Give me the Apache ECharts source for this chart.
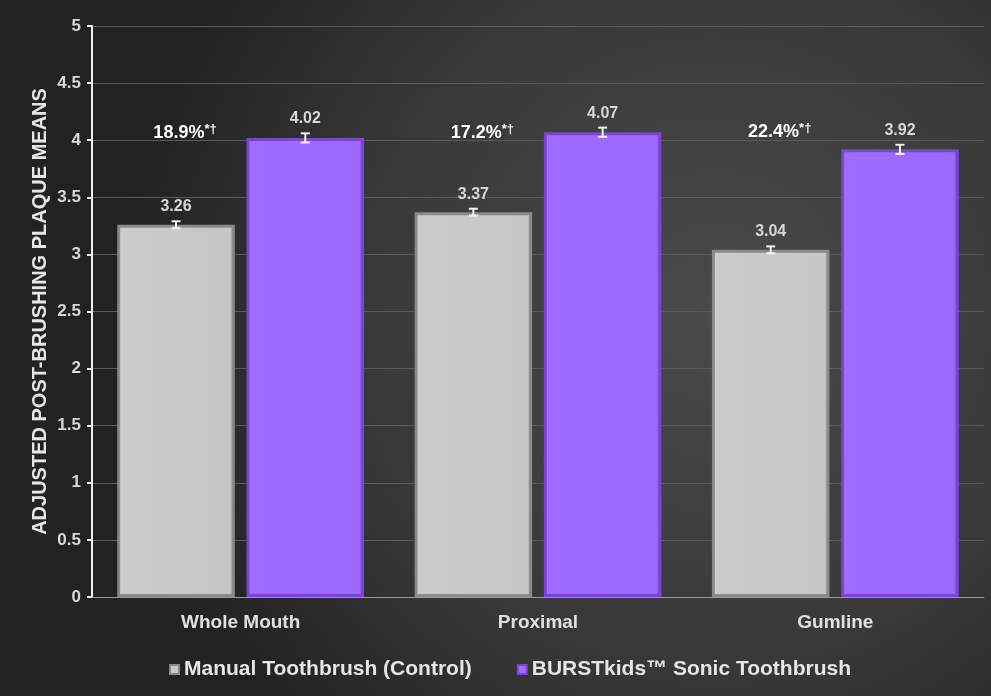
<!DOCTYPE html>
<html><head><meta charset="utf-8">
<script src="https://cdn.jsdelivr.net/npm/echarts@6/dist/echarts.min.js"></script>
<style>html,body{margin:0;padding:0;background:#2a2a2a}#c{width:991px;height:696px}</style>
</head><body><div id="c"></div>
<script>
const categories = ['Whole Mouth', 'Proximal', 'Gumline'];
const seriesNames = ['Manual Toothbrush (Control)', 'BURSTkids\u2122 Sonic Toothbrush'];
const manualValues = [3.26, 3.37, 3.04];
const burstValues = [4.02, 4.07, 3.92];
const manualErr = [0.03, 0.03, 0.03];
const burstErr = [0.04, 0.04, 0.04];
const pctLabels = ['18.9%', '17.2%', '22.4%'];
const pctMarks = ['*\u2020', '*\u2020', '*\u2020'];
const pctY = [4.06, 4.06, 4.07];
const yTicks = [0, 0.5, 1, 1.5, 2, 2.5, 3, 3.5, 4, 4.5, 5];

const CAT_GAP = 0.17, BAR_GAP = 0.10;
function barOffsets(band) {
  const w = band * (1 - CAT_GAP) / (2 + BAR_GAP);
  return { w: w, off: [-(w + w * BAR_GAP) / 2, (w + w * BAR_GAP) / 2] };
}

const errData = [];
manualValues.forEach((v, i) => errData.push([i, v, manualErr[i], 0]));
burstValues.forEach((v, i) => errData.push([i, v, burstErr[i], 1]));

const pctData = pctLabels.map((p, i) => [i, pctY[i], p, pctMarks[i]]);

const chart = echarts.init(document.getElementById('c'), null, {renderer: 'canvas'});
const textFont = '"Liberation Sans", Arial, sans-serif';
chart.setOption({
  backgroundColor: {
    type: 'radial', x: 0.72, y: 0.45, r: 0.85,
    colorStops: [{offset: 0, color: '#4a4a4a'}, {offset: 0.6, color: '#383838'}, {offset: 1, color: '#222222'}]
  },
  textStyle: {fontFamily: textFont},
  animation: false,
  grid: {left: 92, right: 7, top: 26, bottom: 99},
  legend: {
    top: 654, left: 164, itemGap: 45, itemWidth: 9, itemHeight: 9,
    icon: 'rect',
    textStyle: {color: '#e6e6e6', fontSize: 21, fontWeight: 'bold', fontFamily: textFont},
    data: seriesNames
  },
  xAxis: {
    type: 'category', data: categories,
    axisLine: {lineStyle: {color: '#9a9a9a', width: 1}},
    axisTick: {show: false},
    axisLabel: {color: '#e0e0e0', fontSize: 19, fontWeight: 'bold', margin: 16}
  },
  yAxis: {
    type: 'value', min: 0, max: 5, interval: 0.5,
    name: 'ADJUSTED POST-BRUSHING PLAQUE MEANS', nameLocation: 'middle', nameGap: 42,
    nameMoveOverlap: false,
    nameTextStyle: {color: '#e6e6e6', fontSize: 20, fontWeight: 'bold'},
    axisLine: {show: true, lineStyle: {color: '#f0f0f0', width: 2}},
    axisTick: {show: true, length: 5, lineStyle: {color: '#f0f0f0', width: 2}},
    axisLabel: {color: '#d8d8d8', fontSize: 17, fontWeight: 'bold', margin: 11,
      formatter: v => yTicks.indexOf(v) >= 0 ? String(v) : ''},
    splitLine: {lineStyle: {color: '#5a5a5a', width: 1}}
  },
  series: [
    {
      name: seriesNames[0], type: 'bar', data: manualValues,
      barCategoryGap: (CAT_GAP * 100) + '%', barGap: (BAR_GAP * 100) + '%',
      itemStyle: {
        color: {type: 'linear', x: 0, y: 0, x2: 1, y2: 0, colorStops: [
          {offset: 0, color: '#efefef'}, {offset: 0.04, color: '#cbcbcb'}, {offset: 0.96, color: '#c6c6c6'}, {offset: 1, color: '#8f8f8f'}]},
        borderColor: '#8a8a8a', borderWidth: 3
      },
      label: {show: true, position: 'top', distance: 10, color: '#d8d8d8', fontSize: 16, fontWeight: 'bold',
        formatter: p => p.value.toFixed(2)},
      z: 2
    },
    {
      name: seriesNames[1], type: 'bar', data: burstValues,
      itemStyle: {
        color: {type: 'linear', x: 0, y: 0, x2: 1, y2: 0, colorStops: [
          {offset: 0, color: '#b68cff'}, {offset: 0.04, color: '#a06cff'}, {offset: 0.96, color: '#9d69fb'}, {offset: 1, color: '#6d38c0'}]},
        borderColor: '#7b44d6', borderWidth: 3
      },
      label: {show: true, position: 'top', distance: 11, color: '#d8d8d8', fontSize: 16, fontWeight: 'bold',
        formatter: p => p.value.toFixed(2)},
      z: 2
    },
    {
      type: 'custom', name: 'err', data: errData, z: 5, silent: true,
      renderItem: function (params, api) {
        const cat = api.value(0), v = api.value(1), e = api.value(2), s = api.value(3);
        const band = api.size([1, 0])[0];
        const o = barOffsets(band);
        const c = api.coord([cat, v]);
        const x = c[0] + o.off[s];
        const top = api.coord([cat, v + e])[1];
        const bot = api.coord([cat, v - e])[1];
        const hw = 4.5;
        const st = {stroke: '#f4f4f4', lineWidth: 2};
        return {type: 'group', children: [
          {type: 'line', shape: {x1: x, y1: top, x2: x, y2: bot}, style: st},
          {type: 'line', shape: {x1: x - hw, y1: top, x2: x + hw, y2: top}, style: st},
          {type: 'line', shape: {x1: x - hw, y1: bot, x2: x + hw, y2: bot}, style: st}
        ]};
      }
    },
    {
      type: 'custom', name: 'pct', data: pctData, z: 6, silent: true,
      renderItem: function (params, api) {
        const cat = api.value(0), y = api.value(1);
        const band = api.size([1, 0])[0];
        const o = barOffsets(band);
        const c = api.coord([cat, y]);
        const d = pctData[params.dataIndex];
        return {type: 'text', x: c[0] + o.off[0] + 9, y: c[1],
          style: {text: '{a|' + d[2] + '}{b|' + d[3] + '}', align: 'center', verticalAlign: 'middle',
            rich: {
              a: {fill: '#ffffff', fontSize: 18, fontWeight: 'bold', fontFamily: textFont},
              b: {fill: '#ffffff', fontSize: 13, fontWeight: 'bold', fontFamily: textFont, verticalAlign: 'top', padding: [0, 0, 8, 0]}
            }}};
      }
    }
  ]
});
</script></body></html>
